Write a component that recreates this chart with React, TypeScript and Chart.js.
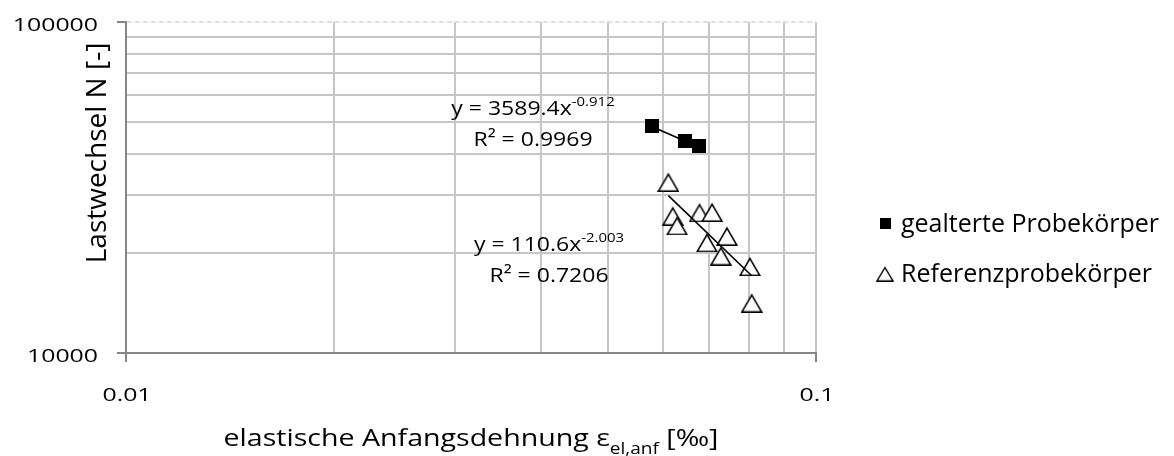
import React, { useEffect, useRef } from 'react';
import { Chart, registerables } from 'chart.js';

Chart.register(...registerables);

// Elastische Anfangsdehnung [‰] und Lastwechsel N [-] je Probekörper
const agedStrain = [0.0578, 0.0646, 0.0677];
const agedCycles = [48400, 43600, 42100];
const refStrain = [0.0611, 0.062, 0.0629, 0.0678, 0.0707, 0.0743, 0.0695, 0.0728, 0.0802, 0.0807];
const refCycles = [32900, 26000, 24300, 26600, 26700, 22600, 21600, 19700, 18300, 14200];

// Potenz-Trendlinien y = a·x^b mit Bestimmtheitsmaß
const agedFit = [3589.4, -0.912];
const agedR2 = 0.9969;
const refFit = [110.6, -2.003];
const refR2 = 0.7206;

const seriesNames = ['gealterte Probekörper', 'Referenzprobekörper'];

// Gitterlinien und beschriftete Achsenwerte
const xGridValues = [0.01, 0.02, 0.03, 0.04, 0.05, 0.06, 0.07, 0.08, 0.09, 0.1];
const yGridValues = [10000, 20000, 30000, 40000, 50000, 60000, 70000, 80000, 90000, 100000];
const xTickLabels = ['0.01', '0.1'];
const yTickLabels = ['10000', '100000'];

const xTitle = ['elastische Anfangsdehnung ε', 'el,anf', ' [‰]'];
const yTitle = 'Lastwechsel N [-]';

const FONT = '"Open Sans"';
const AXIS = '#868686';
const GRID = '#c6c6c6';

function fitLine(fit: number[], xs: number[]) {
  const lo = Math.min(...xs);
  const hi = Math.max(...xs);
  return [lo, hi].map((x) => ({ x, y: fit[0] * Math.pow(x, fit[1]) }));
}

function makeSquare(size: number) {
  const c = document.createElement('canvas');
  c.width = size;
  c.height = size;
  const g = c.getContext('2d')!;
  g.fillStyle = '#000';
  g.fillRect(0, 0, size, size);
  return c;
}

function makeTriangle(w: number, h: number, lw: number) {
  const c = document.createElement('canvas');
  c.width = w;
  c.height = h;
  const g = c.getContext('2d')!;
  g.beginPath();
  g.moveTo(w / 2, lw + 0.8);
  g.lineTo(w - lw * 0.8, h - lw / 2);
  g.lineTo(lw * 0.8, h - lw / 2);
  g.closePath();
  g.fillStyle = '#fff';
  g.fill();
  g.lineWidth = lw;
  g.strokeStyle = '#000';
  g.stroke();
  return c;
}

type Run = { text: string; size: number; dy: number };

// draws a sequence of text runs, horizontally stretched by sx, aligned around x
function drawRuns(ctx: CanvasRenderingContext2D, runs: Run[], x: number, y: number, sx: number, align: 'left' | 'center' | 'right') {
  ctx.save();
  let total = 0;
  const widths = runs.map((r) => {
    ctx.font = `${r.size}px ${FONT}`;
    const w = ctx.measureText(r.text).width;
    total += w;
    return w;
  });
  let left = x;
  if (align === 'center') left = x - (total * sx) / 2;
  if (align === 'right') left = x - total * sx;
  ctx.translate(left, y);
  ctx.scale(sx, 1);
  ctx.textAlign = 'left';
  ctx.textBaseline = 'alphabetic';
  ctx.fillStyle = '#000';
  let cx = 0;
  runs.forEach((r, i) => {
    ctx.font = `${r.size}px ${FONT}`;
    ctx.fillText(r.text, cx, r.dy);
    cx += widths[i];
  });
  ctx.restore();
}

function drawEquation(ctx: CanvasRenderingContext2D, fit: number[], r2: number, cx: number, yBase: number) {
  drawRuns(
    ctx,
    [
      { text: `y = ${fit[0]}x`, size: 20, dy: 0 },
      { text: `${fit[1]}`, size: 13, dy: -9 },
    ],
    cx,
    yBase,
    1.15,
    'center'
  );
  drawRuns(ctx, [{ text: `R² = ${r2}`, size: 20, dy: 0 }], cx, yBase + 31, 1.15, 'center');
}

export default function App() {
  const canvasRef = useRef<HTMLCanvasElement | null>(null);

  useEffect(() => {
    let chart: Chart | null = null;
    let cancelled = false;

    const squareImg = makeSquare(14);
    const triangleImg = makeTriangle(22, 20, 1.6);
    const legendSquare = makeSquare(11);
    const legendTriangle = makeTriangle(18, 16, 1.3);

    const overlay = {
      id: 'overlay',
      beforeDatasetsDraw(c: any) {
        const { ctx, chartArea } = c;
        const yTop = Math.round(c.scales.y.getPixelForValue(yGridValues[yGridValues.length - 1]));
        ctx.save();
        ctx.strokeStyle = '#d6d6d6';
        ctx.lineWidth = 1.5;
        ctx.setLineDash([5, 3]);
        ctx.beginPath();
        ctx.moveTo(chartArea.left + 1, yTop);
        ctx.lineTo(chartArea.right, yTop);
        ctx.stroke();
        ctx.restore();
      },
      afterDraw(c: any) {
        const { ctx } = c;
        const xs = c.scales.x;
        const ys = c.scales.y;

        // tick labels
        yTickLabels.forEach((t) => {
          const py = ys.getPixelForValue(Number(t));
          drawRuns(ctx, [{ text: t, size: 18, dy: 0 }], 98, py + 9, 1.38, 'right');
        });
        xTickLabels.forEach((t) => {
          const px = xs.getPixelForValue(Number(t));
          drawRuns(ctx, [{ text: t, size: 18, dy: 0 }], px + 1, 401, 1.38, 'center');
        });

        // axis titles
        const midX = (c.chartArea.left + c.chartArea.right) / 2;
        drawRuns(
          ctx,
          [
            { text: xTitle[0], size: 24, dy: 0 },
            { text: xTitle[1], size: 16, dy: 8 },
            { text: xTitle[2], size: 24, dy: 0 },
          ],
          midX,
          446,
          1.19,
          'center'
        );
        ctx.save();
        ctx.translate(106, 153);
        ctx.rotate(-Math.PI / 2);
        ctx.font = `28px ${FONT}`;
        ctx.fillStyle = '#000';
        ctx.textAlign = 'center';
        ctx.textBaseline = 'alphabetic';
        ctx.fillText(yTitle, 0, 0);
        ctx.restore();

        // trend line equations
        drawEquation(ctx, agedFit, agedR2, 533, 115);
        drawEquation(ctx, refFit, refR2, 549, 251);

        // legend
        const rows = [232, 282];
        ctx.drawImage(legendSquare, 885 - 5.5, rows[0] - 9 - 5.5);
        ctx.drawImage(legendTriangle, 885 - 9, rows[1] - 8.5 - 8);
        seriesNames.forEach((name, i) => {
          drawRuns(ctx, [{ text: name, size: 25, dy: 0 }], 901, rows[i], 1.0, 'left');
        });
      },
    };

    const majorX = xTickLabels.map(Number);
    const majorY = yTickLabels.map(Number);

    const build = () => {
      if (cancelled || !canvasRef.current) return;
      chart = new Chart(canvasRef.current, {
        type: 'scatter',
        data: {
          datasets: [
            {
              data: fitLine(refFit, refStrain),
              showLine: true,
              borderColor: '#000',
              borderWidth: 1.6,
              pointRadius: 0,
            },
            {
              data: fitLine(agedFit, agedStrain),
              showLine: true,
              borderColor: '#000',
              borderWidth: 1.6,
              pointRadius: 0,
            },
            {
              label: seriesNames[0],
              data: agedStrain.map((x, i) => ({ x, y: agedCycles[i] })),
              pointStyle: squareImg as any,
              pointRadius: 7,
            },
            {
              label: seriesNames[1],
              data: refStrain.map((x, i) => ({ x, y: refCycles[i] })),
              pointStyle: triangleImg as any,
              pointRadius: 10,
            },
          ],
        },
        options: {
          animation: false,
          responsive: false,
          events: [],
          layout: { padding: { top: 22, right: 358, left: 0, bottom: 0 } },
          plugins: { legend: { display: false }, tooltip: { enabled: false } },
          scales: {
            x: {
              type: 'logarithmic',
              min: xGridValues[0],
              max: xGridValues[xGridValues.length - 1],
              afterBuildTicks: (s: any) => {
                s.ticks = xGridValues.map((v) => ({ value: v }));
              },
              afterFit: (s: any) => {
                s.height = 103;
              },
              ticks: { display: false },
              border: { color: AXIS, width: 2 },
              grid: {
                color: (ctx: any) => (ctx.tick && ctx.tick.value === xGridValues[0] ? 'rgba(0,0,0,0)' : GRID),
                lineWidth: 2,
                tickLength: 9,
                tickWidth: 2,
                tickColor: (ctx: any) => (ctx.tick && majorX.includes(ctx.tick.value) ? AXIS : 'rgba(0,0,0,0)'),
              },
            },
            y: {
              type: 'logarithmic',
              min: yGridValues[0],
              max: yGridValues[yGridValues.length - 1],
              afterBuildTicks: (s: any) => {
                s.ticks = yGridValues.map((v) => ({ value: v }));
              },
              afterFit: (s: any) => {
                s.width = 126;
              },
              ticks: { display: false },
              border: { color: AXIS, width: 2 },
              grid: {
                color: (ctx: any) =>
                  ctx.tick && (ctx.tick.value === yGridValues[yGridValues.length - 1] || ctx.tick.value === yGridValues[0])
                    ? 'rgba(0,0,0,0)'
                    : GRID,
                lineWidth: 2,
                tickLength: 9,
                tickWidth: 2,
                tickColor: (ctx: any) => (ctx.tick && majorY.includes(ctx.tick.value) ? AXIS : 'rgba(0,0,0,0)'),
              },
            },
          },
        },
        plugins: [overlay],
      } as any);
    };

    const fonts: any = (document as any).fonts;
    if (fonts && fonts.load) {
      Promise.all([fonts.load(`24px ${FONT}`), fonts.load(`13px ${FONT}`)]).then(build, build);
    } else {
      build();
    }

    return () => {
      cancelled = true;
      if (chart) chart.destroy();
    };
  }, []);

  return (
    <div style={{ position: 'fixed', left: 0, top: 0, width: 1174, height: 456, background: '#fff' }}>
      <canvas ref={canvasRef} width={1174} height={456} style={{ display: 'block' }} />
    </div>
  );
}
